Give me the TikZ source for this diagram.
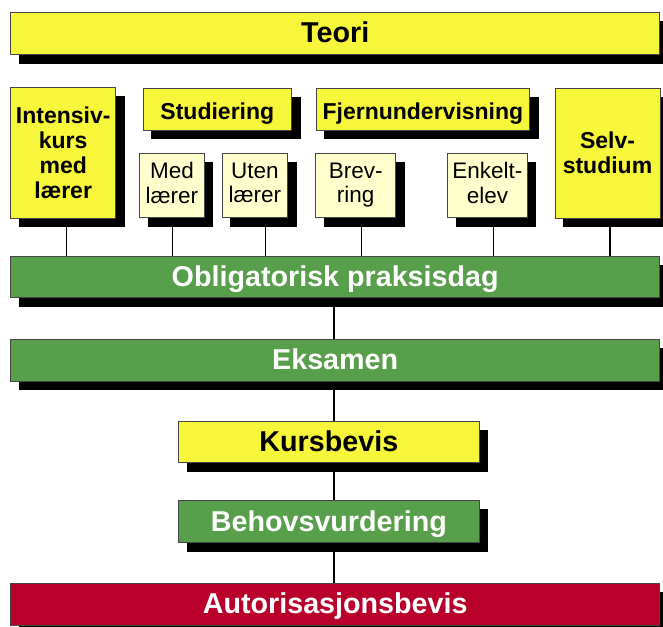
\documentclass[tikz,border=0pt]{standalone}
\usepackage{fontspec}
\setmainfont{Liberation Sans}
\usetikzlibrary{backgrounds}
\definecolor{ylw}{RGB}{248,246,58}
\definecolor{lyel}{RGB}{255,255,206}
\definecolor{grn}{RGB}{88,159,76}
\definecolor{rd}{RGB}{184,0,42}
\definecolor{edge}{RGB}{70,70,70}
\begin{document}
\begin{tikzpicture}[x=1pt,y=-1pt,
  box/.style={draw=edge, line width=0.8pt, inner sep=0pt, align=center},
  big/.style={box, font=\fontsize{28.7}{30}\selectfont\bfseries, text height=19pt, text depth=0pt},
  mid/.style={box, fill=ylw, font=\fontsize{23}{25}\selectfont\bfseries},
  midone/.style={mid, text height=21pt, text depth=0pt},
  sub/.style={box, fill=lyel, font=\fontsize{22.5}{24.5}\selectfont},
  conn/.style={line width=1.5pt, black},
  shade/.style={fill=black}]
\useasboundingbox (0,0) rectangle (663,626);

\node[big, fill=ylw, minimum width=649pt, minimum height=41.6pt] (teori) at (335.2,33.5) {Teori};

\node[mid, minimum width=105pt, minimum height=130.3pt] (intensiv) at (63.2,152.9) {Intensiv-\\kurs\\med\\lærer};
\node[midone, minimum width=148.7pt, minimum height=42pt] (stud) at (217.35,109) {Studiering};
\node[midone, minimum width=213.8pt, minimum height=42pt] (fjern) at (422.9,109) {Fjernundervisning};
\node[mid, minimum width=105pt, minimum height=130pt] (selv) at (607.5,153) {Selv-\\studium};

\node[sub, minimum width=64.8pt, minimum height=64.3pt] (med) at (171.9,185.15) {Med\\lærer\vphantom{g}};
\node[sub, minimum width=65.7pt, minimum height=64.3pt] (uten) at (254.85,185.15) {Uten\\lærer\vphantom{g}};
\node[sub, minimum width=79.9pt, minimum height=64.3pt] (brev) at (355.75,185.15) {Brev-\\ring};
\node[sub, minimum width=79.8pt, minimum height=64.3pt] (enkelt) at (487.4,185.15) {Enkelt-\\elev\vphantom{g}};

\node[big, fill=grn, text=white, minimum width=649pt, minimum height=41.2pt] (oblig) at (335.2,277.1) {Obligatorisk praksisdag};
\node[big, fill=grn, text=white, minimum width=649pt, minimum height=42pt] (eks) at (335.2,360) {Eksamen};
\node[big, fill=ylw, minimum width=300.9pt, minimum height=41.7pt] (kurs) at (328.85,441.85) {Kursbevis};
\node[big, fill=grn, text=white, minimum width=300.9pt, minimum height=42pt] (behov) at (328.85,521.7) {Behovsvurdering};
\node[big, fill=rd, text=white, minimum width=649pt, minimum height=41.7pt] (aut) at (335.2,604.15) {Autorisasjonsbevis};

\begin{scope}[on background layer]
  \foreach \n in {teori,intensiv,stud,fjern,selv,med,uten,brev,enkelt,oblig,eks,kurs,behov,aut}
    \fill[shade] ([shift={(8.5pt,-9pt)}]\n.south west) rectangle ([shift={(8.5pt,-9pt)}]\n.north east);
\end{scope}

\draw[conn] ([xshift=3.4pt,yshift=-9pt]intensiv.south) -- ([xshift=3.4pt]intensiv.south |- oblig.north);
\draw[conn] ([xshift=0.4pt,yshift=-9pt]med.south) -- ([xshift=0.4pt]med.south |- oblig.north);
\draw[conn] ([xshift=10.85pt,yshift=-9pt]uten.south) -- ([xshift=10.85pt]uten.south |- oblig.north);
\draw[conn] ([xshift=5.95pt,yshift=-9pt]brev.south) -- ([xshift=5.95pt]brev.south |- oblig.north);
\draw[conn] ([xshift=6.1pt,yshift=-9pt]enkelt.south) -- ([xshift=6.1pt]enkelt.south |- oblig.north);
\draw[conn] ([xshift=2.5pt,yshift=-9pt]selv.south) -- ([xshift=2.5pt]selv.south |- oblig.north);

\draw[conn] ([xshift=-1.2pt,yshift=-9pt]oblig.south) -- ([xshift=-1.2pt]eks.north);
\draw[conn] ([xshift=-1.2pt,yshift=-9pt]eks.south) -- ([xshift=5.15pt]kurs.north);
\draw[conn] ([xshift=5.15pt,yshift=-9pt]kurs.south) -- ([xshift=5.15pt]behov.north);
\draw[conn] ([xshift=5.15pt,yshift=-9pt]behov.south) -- ([xshift=-1.2pt]aut.north);
\end{tikzpicture}
\end{document}
